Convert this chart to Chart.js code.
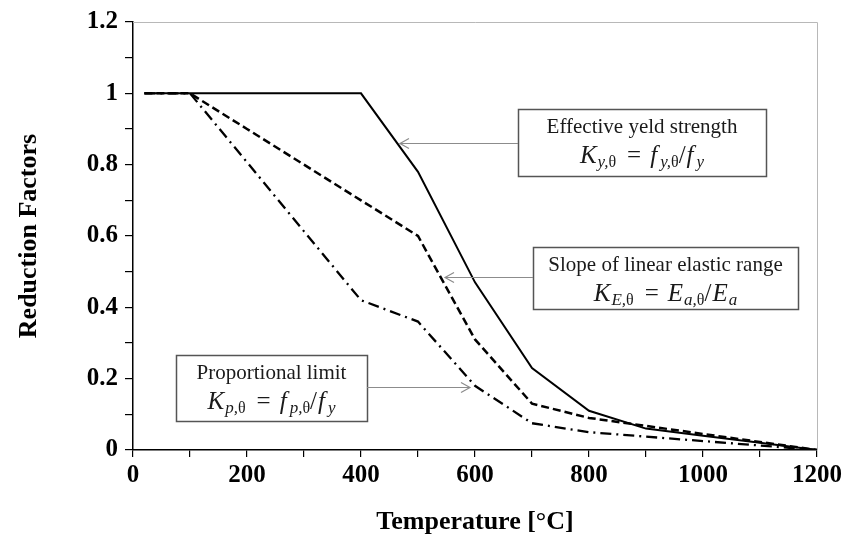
<!DOCTYPE html>
<html>
<head>
<meta charset="utf-8">
<script src="https://cdn.jsdelivr.net/npm/chart.js@4.4.1/dist/chart.umd.min.js"></script>
<style>
  html, body { margin: 0; padding: 0; background: #fff; }
  #wrap { width: 846px; height: 554px; }
</style>
</head>
<body>
<div id="wrap"><canvas id="c" width="846" height="554"></canvas></div>
<script>
// Steel reduction factors at elevated temperature
const temperatures = [20, 100, 200, 300, 400, 500, 600, 700, 800, 900, 1000, 1100, 1200];
const kYield      = [1, 1, 1, 1, 1, 0.78, 0.47, 0.23, 0.11, 0.06, 0.04, 0.02, 0];
const kElastic    = [1, 1, 0.9, 0.8, 0.7, 0.6, 0.31, 0.13, 0.09, 0.0675, 0.045, 0.0225, 0];
const kProportion = [1, 1, 0.807, 0.613, 0.42, 0.36, 0.18, 0.075, 0.05, 0.0375, 0.025, 0.0125, 0];

const xLabels = ['0', '200', '400', '600', '800', '1000', '1200'];
const yLabels = ['0', '0.2', '0.4', '0.6', '0.8', '1', '1.2'];

const toPoints = ys => temperatures.map((t, i) => ({ x: t, y: ys[i] }));

// Formula pieces: [text, kind, extra gap after]
// kinds: i = italic, n = upright, s = italic subscript, u = upright subscript
const fyFormula = [['K','i',1],['y,','s',0],['θ','u',2],['=','n',0],['f','i',3],['y,','s',0],['θ','u',0],['/','n',1],['f','i',3],['y','s',0]];
const fEFormula = [['K','i',1],['E,','s',0],['θ','u',2],['=','n',0],['E','i',1],['a,','s',0],['θ','u',0],['/','n',1],['E','i',1],['a','s',0]];
const fpFormula = [['K','i',1],['p,','s',0],['θ','u',2],['=','n',0],['f','i',3],['p,','s',0],['θ','u',0],['/','n',1],['f','i',3],['y','s',0]];

// Callout boxes (data units) with leader arrows
const notes = [
  { title: 'Effective yeld strength', formula: fyFormula,
    box: [675.4, 1110.5, 0.957, 0.767], arrowY: 0.860, from: 675.4, tip: 468.4 },
  { title: 'Slope of linear elastic range', formula: fEFormula,
    box: [701.8, 1166.7, 0.569, 0.396], arrowY: 0.486, from: 701.8, tip: 547.4 },
  { title: 'Proportional limit', formula: fpFormula,
    box: [75.4, 410.5, 0.265, 0.081], arrowY: 0.177, from: 410.5, tip: 591.2 }
];

const SERIF = '"Liberation Serif", "Times New Roman", serif';

const frameAndNotes = {
  id: 'frameAndNotes',
  beforeDatasetsDraw(chart) {
    const { ctx, chartArea: a } = chart;
    ctx.save();
    ctx.strokeStyle = '#b8b8b8';
    ctx.lineWidth = 1;
    ctx.beginPath();
    ctx.moveTo(a.left, a.top + 0.5);
    ctx.lineTo(a.right + 0.5, a.top + 0.5);
    ctx.lineTo(a.right + 0.5, a.bottom);
    ctx.stroke();
    ctx.restore();
  },
  afterDraw(chart) {
    const { ctx } = chart;
    const xs = chart.scales.x, ys = chart.scales.y;
    ctx.save();
    notes.forEach(n => {
      const x0 = Math.round(xs.getPixelForValue(n.box[0]));
      const x1 = Math.round(xs.getPixelForValue(n.box[1]));
      const y0 = Math.round(ys.getPixelForValue(n.box[2]));
      const y1 = Math.round(ys.getPixelForValue(n.box[3]));
      // box
      ctx.fillStyle = '#fff';
      ctx.fillRect(x0, y0, x1 - x0, y1 - y0);
      ctx.strokeStyle = '#555';
      ctx.lineWidth = 1.5;
      ctx.strokeRect(x0 + 0.5, y0 + 0.5, x1 - x0, y1 - y0);
      // arrow
      const ay = Math.round(ys.getPixelForValue(n.arrowY)) + 0.5;
      const ax0 = xs.getPixelForValue(n.from);
      const ax1 = xs.getPixelForValue(n.tip);
      const dir = ax1 > ax0 ? 1 : -1;
      ctx.strokeStyle = '#8c8c8c';
      ctx.lineWidth = 1.2;
      ctx.beginPath();
      ctx.moveTo(ax0, ay);
      ctx.lineTo(ax1, ay);
      ctx.moveTo(ax1 - dir * 9, ay - 5);
      ctx.lineTo(ax1, ay);
      ctx.lineTo(ax1 - dir * 9, ay + 5);
      ctx.stroke();
      // title line
      const cx = (x0 + x1) / 2;
      ctx.fillStyle = '#1a1a1a';
      ctx.textBaseline = 'middle';
      ctx.textAlign = 'center';
      ctx.font = '21px ' + SERIF;
      ctx.fillText(n.title, cx, y0 + 18);
      // formula line with subscripts
      const fonts = {
        i: 'italic 25px ' + SERIF, n: '25px ' + SERIF,
        s: 'italic 17px ' + SERIF, u: '16px ' + SERIF
      };
      const eqPad = 9;
      const widthOf = ([t, k, g]) => {
        ctx.font = fonts[k];
        return ctx.measureText(t).width + g + (t === '=' ? 2 * eqPad : 0);
      };
      const w = n.formula.reduce((acc, p) => acc + widthOf(p), 0);
      let x = cx - w / 2;
      const by = y0 + 54;
      ctx.textAlign = 'left';
      ctx.textBaseline = 'alphabetic';
      n.formula.forEach(p => {
        const [t, k] = p;
        ctx.font = fonts[k];
        const sub = k === 's' || k === 'u';
        ctx.fillText(t, x + (t === '=' ? eqPad : 0), sub ? by + 4 : by);
        x += widthOf(p);
      });
    });
    ctx.restore();
  }
};

new Chart(document.getElementById('c'), {
  type: 'scatter',
  data: {
    datasets: [
      { label: 'Effective yield strength', data: toPoints(kYield), showLine: true,
        borderColor: '#000', borderWidth: 2, pointRadius: 0, tension: 0 },
      { label: 'Slope of linear elastic range', data: toPoints(kElastic), showLine: true,
        borderColor: '#000', borderWidth: 2.5, borderDash: [8, 4], pointRadius: 0, tension: 0 },
      { label: 'Proportional limit', data: toPoints(kProportion), showLine: true,
        borderColor: '#000', borderWidth: 2.3, borderDash: [11, 5, 2, 5], pointRadius: 0, tension: 0 }
    ]
  },
  options: {
    responsive: false,
    animation: false,
    layout: { padding: { top: 20, right: 29, left: 0, bottom: 0 } },
    plugins: { legend: { display: false }, tooltip: { enabled: false } },
    scales: {
      x: {
        type: 'linear', min: 0, max: 1200,
        afterFit: s => { s.height = 104; },
        border: { display: true, color: '#000', width: 1.5 },
        grid: { display: true, drawOnChartArea: false, drawTicks: true, tickLength: 7, color: '#000', lineWidth: 1.2 },
        ticks: {
          stepSize: 100, padding: 4, color: '#000', maxRotation: 0, autoSkip: false,
          font: { family: SERIF, size: 25, weight: 'bold' },
          callback: v => (v % 200 === 0 ? xLabels[v / 200] : '')
        },
        title: { display: true, text: 'Temperature [°C]', color: '#000',
          font: { family: SERIF, size: 26, weight: 'bold' }, padding: { bottom: 16, top: 0 } }
      },
      y: {
        type: 'linear', min: 0, max: 1.2,
        afterFit: s => { s.width = 133; },
        border: { display: true, color: '#000', width: 1.5 },
        grid: { display: true, drawOnChartArea: false, drawTicks: true, tickLength: 8, color: '#000', lineWidth: 1.2 },
        ticks: {
          stepSize: 0.1, padding: 7, color: '#000', autoSkip: false,
          font: { family: SERIF, size: 25, weight: 'bold' },
          callback: v => {
            const k = Math.round(v * 10);
            return k % 2 === 0 ? yLabels[k / 2] : '';
          }
        },
        title: { display: true, text: 'Reduction Factors', color: '#000',
          font: { family: SERIF, size: 26, weight: 'bold' }, padding: { top: 14, bottom: 0 } }
      }
    }
  },
  plugins: [frameAndNotes]
});
</script>
</body>
</html>
